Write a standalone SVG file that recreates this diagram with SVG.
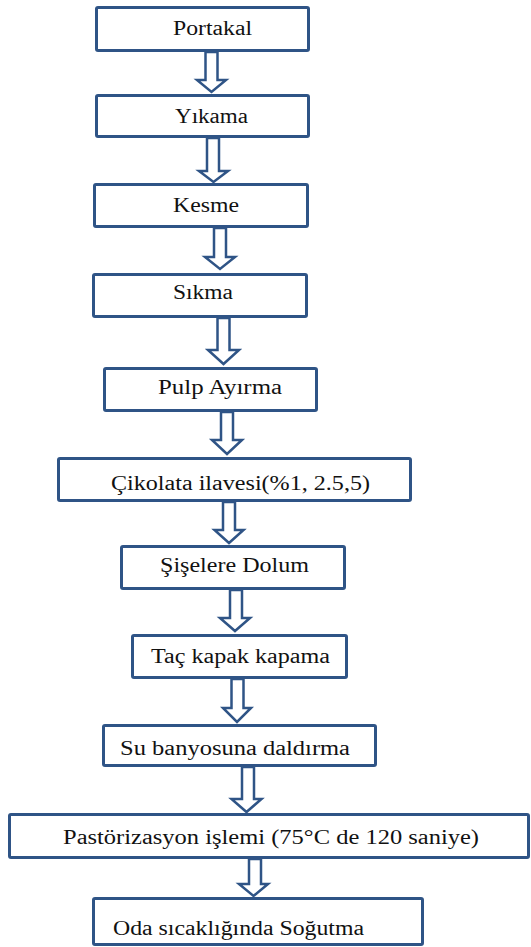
<svg xmlns="http://www.w3.org/2000/svg" width="531" height="947" viewBox="0 0 531 947">
<style>
.box{fill:#fff;stroke:#2f5486;stroke-width:3}
.arr{fill:#fff;stroke:#2f5486;stroke-width:2.5;stroke-linejoin:miter}
.lbl{font-size:20px;fill:#111}
</style>
<rect width="531" height="947" fill="#fff"/>
<g id="connectors">
<polygon class="arr" points="205.5,52 217.5,52 217.5,80 226,80 211.5,92 197,80 205.5,80"/>
<polygon class="arr" points="207,138 219,138 219,171 228,171 213.5,182 199,171 207,171"/>
<polygon class="arr" points="214,228 226,228 226,257 235,257 220,269 205,257 214,257"/>
<polygon class="arr" points="217.5,318 229.5,318 229.5,350 239,350 223.5,364 208,350 217.5,350"/>
<polygon class="arr" points="221,412 233,412 233,440 242,440 227,454 212,440 221,440"/>
<polygon class="arr" points="223,502 235,502 235,530 243.5,530 229,543 214.5,530 223,530"/>
<polygon class="arr" points="230,590 242,590 242,618 250,618 235,631 220,618 230,618"/>
<polygon class="arr" points="231.5,679 243.5,679 243.5,708 251,708 237,722 223,708 231.5,708"/>
<polygon class="arr" points="242,767 254,767 254,799 261.5,799 246.5,812 231.5,799 242,799"/>
<polygon class="arr" points="249,859 261,859 261,884 268,884 253.5,896 239,884 249,884"/>
</g>
<g font-family="'Liberation Serif', 'Times New Roman', 'DejaVu Serif', serif">
<g id="n1"><rect class="box" x="96.5" y="7.5" width="212" height="43" rx="1.5"/><text class="lbl" x="173" y="35" textLength="79" lengthAdjust="spacingAndGlyphs">Portakal</text></g>
<g id="n2"><rect class="box" x="96.5" y="95.5" width="212" height="41" rx="1.5"/><text class="lbl" x="175" y="123" textLength="73" lengthAdjust="spacingAndGlyphs">Yıkama</text></g>
<g id="n3"><rect class="box" x="94.5" y="184.5" width="213" height="42" rx="1.5"/><text class="lbl" x="173" y="212" textLength="66" lengthAdjust="spacingAndGlyphs">Kesme</text></g>
<g id="n4"><rect class="box" x="93.5" y="274.5" width="213" height="42" rx="1.5"/><text class="lbl" x="173" y="299" textLength="60" lengthAdjust="spacingAndGlyphs">Sıkma</text></g>
<g id="n5"><rect class="box" x="104.5" y="368.5" width="212" height="42" rx="1.5"/><text class="lbl" x="158" y="394" textLength="124" lengthAdjust="spacingAndGlyphs">Pulp Ayırma</text></g>
<g id="n6"><rect class="box" x="58.5" y="458.5" width="352" height="42" rx="1.5"/><text class="lbl" x="111" y="490" textLength="259" lengthAdjust="spacingAndGlyphs">Çikolata ilavesi(%1, 2.5,5)</text></g>
<g id="n7"><rect class="box" x="121.5" y="546.5" width="223" height="42" rx="1.5"/><text class="lbl" x="160" y="572" textLength="149" lengthAdjust="spacingAndGlyphs">Şişelere Dolum</text></g>
<g id="n8"><rect class="box" x="132.5" y="635.5" width="214" height="42" rx="1.5"/><text class="lbl" x="151" y="663" textLength="179" lengthAdjust="spacingAndGlyphs">Taç kapak kapama</text></g>
<g id="n9"><rect class="box" x="103.5" y="725.5" width="272" height="40" rx="1.5"/><text class="lbl" x="120" y="755" textLength="230" lengthAdjust="spacingAndGlyphs">Su banyosuna daldırma</text></g>
<g id="n10"><rect class="box" x="9.5" y="814.5" width="519" height="43" rx="1.5"/><text class="lbl" x="63" y="844" textLength="416" lengthAdjust="spacingAndGlyphs">Pastörizasyon işlemi (75°C de 120 saniye)</text></g>
<g id="n11"><rect class="box" x="93.5" y="898.5" width="329" height="46" rx="1.5"/><text class="lbl" x="113" y="935" textLength="251" lengthAdjust="spacingAndGlyphs">Oda sıcaklığında Soğutma</text></g>
</g>
</svg>
